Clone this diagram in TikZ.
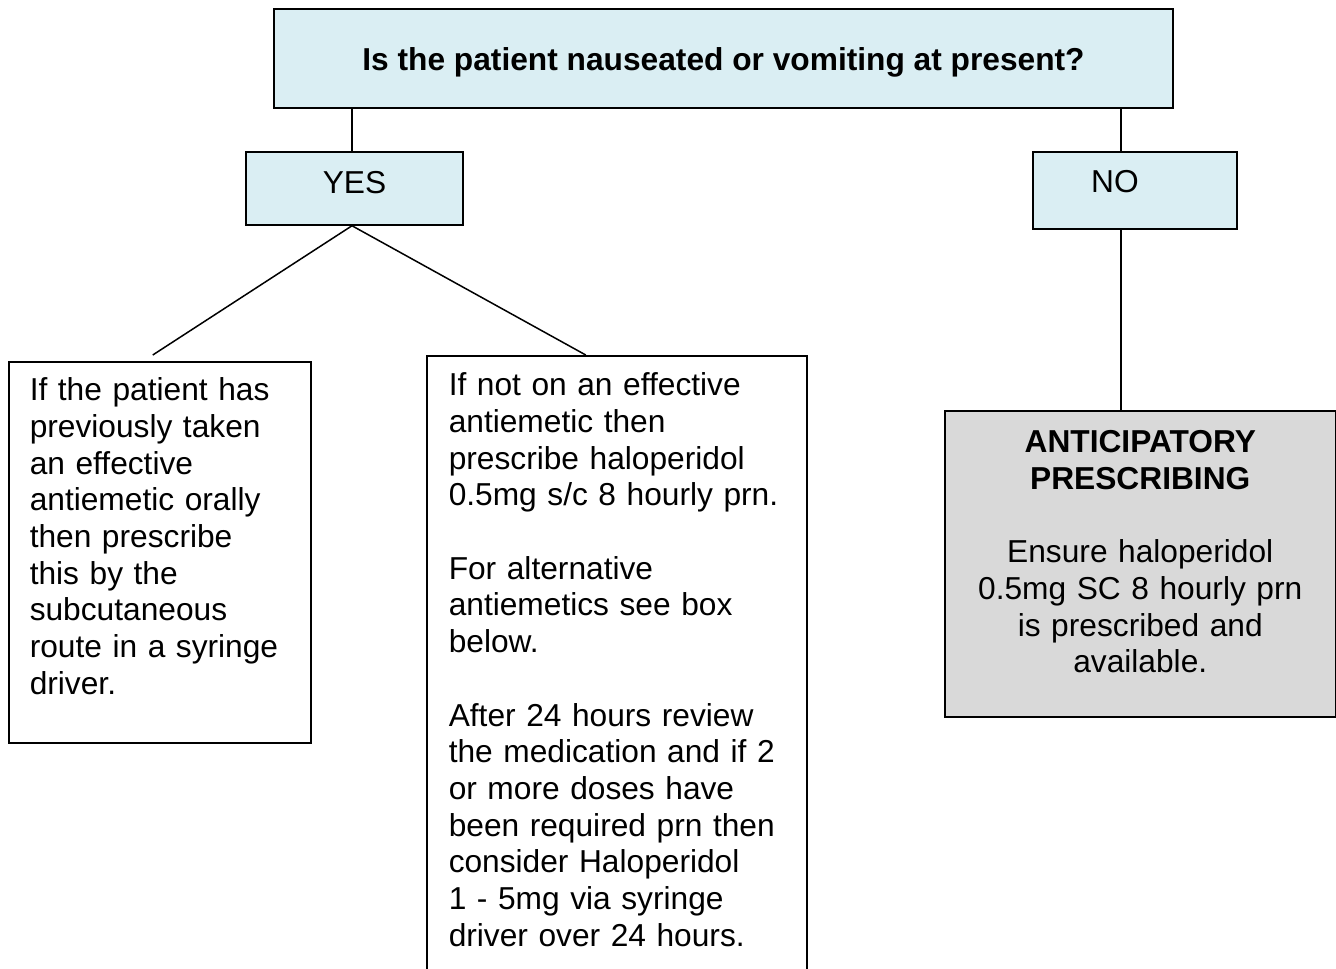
\documentclass[tikz,border=0pt]{standalone}
\usepackage{fontspec}
\setmainfont{Liberation Sans}
\usetikzlibrary{positioning}
\definecolor{askblue}{HTML}{DAEEF3}
\definecolor{antigray}{HTML}{D9D9D9}

\begin{document}
\begin{tikzpicture}[
  x=1pt, y=-1pt,
  box/.style={draw, line width=1.5pt, inner sep=0pt, font=\fontsize{31.7}{36.7}\selectfont},
  ask/.style={box, fill=askblue},
  info/.style={box, fill=white, anchor=north west, align=left},
  link/.style={line width=1.5pt},
]
\useasboundingbox (0,0) rectangle (1336,969);
\clip (0,0) rectangle (1336,969);

% Question and answers
\node[ask, minimum width=899pt, minimum height=99pt, text height=23pt, text depth=0pt,
  font=\fontsize{31.7}{36.7}\selectfont\bfseries] (ques) at (723.5,58.5)
  {Is the patient nauseated or vomiting at present?};
\node[ask, minimum width=217pt, minimum height=73pt, text height=23pt, text depth=14pt]
  (yes) at (354.5,188.5) {YES};
\node[ask, minimum width=204pt, minimum height=77pt, text height=23pt, text depth=20pt]
  (no) at (1135,190.5) {NO\hspace*{40pt}};

% YES branch
\node[info, text width=302pt, text height=39pt, text depth=342pt] (oral) at (8,361)
  {\setlength{\leftskip}{21pt}If the patient has\\ previously taken\\ an effective\\
   antiemetic orally\\ then prescribe\\ this by the\\ subcutaneous\\
   route in a syringe\\ driver.\par};
\node[info, text width=380pt, text height=40pt, text depth=605pt] (halo) at (426,355)
  {\setlength{\leftskip}{22pt}If not on an effective\\ antiemetic then\\
   prescribe haloperidol\\ 0.5mg s/c 8 hourly prn.\\[36.7pt]
   For alternative\\ antiemetics see box\\ below.\\[36.7pt]
   After 24 hours review\\ the medication and if 2\\ or more doses have\\
   been required prn then\\ consider Haloperidol\\ 1 - 5mg via syringe\\
   driver over 24 hours.\par};

% NO branch
\node[box, fill=antigray, anchor=north west, align=center, text width=391pt,
  text height=42pt, text depth=264pt] (antic) at (944,410)
  {\textbf{ANTICIPATORY}\\ \textbf{PRESCRIBING}\\[36.7pt]
   Ensure haloperidol\\ 0.5mg SC 8 hourly prn\\ is prescribed and\\ available.};

% Connectors
\coordinate (yx) at (352,0);
\coordinate (nx) at (1121,0);
\draw[link] (ques.south -| yx) -- (yes.north -| yx);
\draw[link] (ques.south -| nx) -- (no.north -| nx);
\draw[link] (no.south -| nx) -- (antic.north -| nx);
\draw[link] (yes.south -| yx) -- ([xshift=-7pt,yshift=6pt]oral.north);
\draw[link] (yes.south -| yx) -- ([xshift=-31pt]halo.north);
\end{tikzpicture}
\end{document}
